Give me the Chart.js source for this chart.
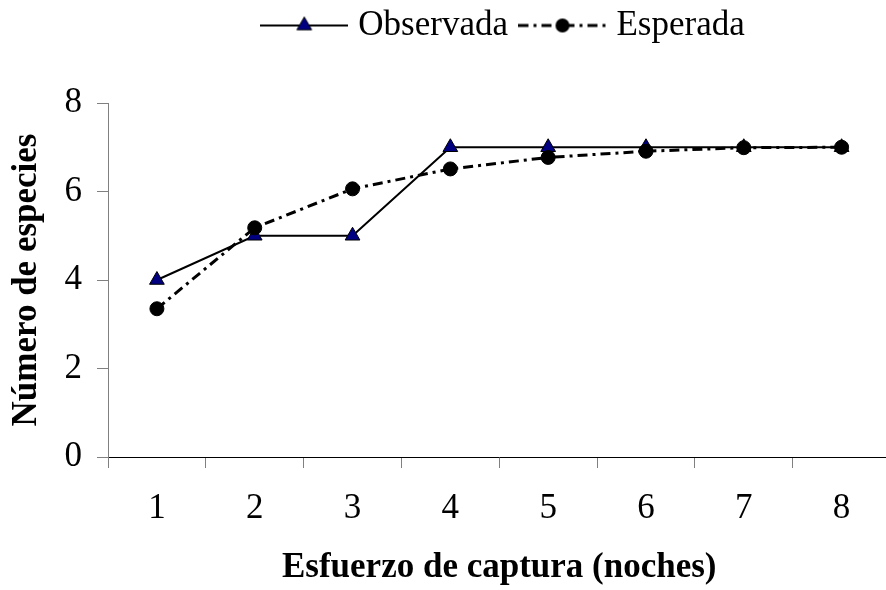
<!DOCTYPE html>
<html><head><meta charset="utf-8">
<script src="https://cdn.jsdelivr.net/npm/chart.js@4.4.0/dist/chart.umd.min.js"></script>
<style>html,body{margin:0;padding:0;overflow:hidden;background:#fff}#wrap{width:900px;height:590px}</style>
</head><body><div id="wrap"><canvas id="c" width="900" height="590"></canvas></div>
<script>
const categories = ['1','2','3','4','5','6','7','8'];
const observada = [4, 5, 5, 7, 7, 7, 7, 7];
const esperada = [3.35, 5.18, 6.06, 6.51, 6.77, 6.91, 6.99, 7.0];
const yTicks = [0, 2, 4, 6, 8];
const seriesNames = ['Observada', 'Esperada'];
const xTitle = 'Esfuerzo de captura (noches)';
const yTitle = 'Número de especies';

const FAM = "'Liberation Serif', 'Times New Roman', serif";
const NAVY = '#000080';
const DASH = [10, 5, 3, 5];

function makeIcon(kind) {
  const c = document.createElement('canvas');
  c.width = 88; c.height = 22;
  const g = c.getContext('2d');
  g.strokeStyle = '#000';
  if (kind === 0) {
    g.lineWidth = 2;
    g.beginPath(); g.moveTo(0, 11); g.lineTo(88, 11); g.stroke();
    const r = 8.5, cx = 44, cy = 11;
    g.beginPath();
    g.moveTo(cx, cy - r);
    g.lineTo(cx + r * Math.sin(2 * Math.PI / 3), cy - r * Math.cos(2 * Math.PI / 3));
    g.lineTo(cx + r * Math.sin(4 * Math.PI / 3), cy - r * Math.cos(4 * Math.PI / 3));
    g.closePath();
    g.fillStyle = NAVY; g.fill(); g.lineWidth = 1; g.stroke();
  } else {
    g.lineWidth = 3; g.setLineDash(DASH);
    g.beginPath(); g.moveTo(0, 11); g.lineTo(88, 11); g.stroke();
    g.setLineDash([]);
    g.beginPath(); g.arc(44, 11, 7, 0, Math.PI * 2);
    g.fillStyle = '#000'; g.fill();
  }
  return c;
}
const icons = [makeIcon(0), makeIcon(1)];

const legendShift = {
  id: 'legendShift',
  afterLayout(chart) {
    if (chart.legend) { chart.legend.left += 7; chart.legend.right += 7; }
  }
};

new Chart(document.getElementById('c'), {
  type: 'line',
  data: {
    labels: categories,
    datasets: [
      {
        label: seriesNames[0], data: observada, order: 1,
        borderColor: '#000', borderWidth: 2, tension: 0,
        pointStyle: 'triangle', pointRadius: 8.5, pointBackgroundColor: NAVY,
        pointBorderColor: '#000', pointBorderWidth: 1
      },
      {
        label: seriesNames[1], data: esperada, order: 0,
        borderColor: '#000', borderWidth: 3, borderDash: DASH, tension: 0,
        pointStyle: 'circle', pointRadius: 7, pointBackgroundColor: '#000',
        pointBorderColor: '#000', pointBorderWidth: 1
      }
    ]
  },
  plugins: [legendShift],
  options: {
    responsive: false,
    animation: false,
    devicePixelRatio: 1,
    layout: { padding: { top: -10, right: 6, left: 0, bottom: 0 } },
    plugins: {
      tooltip: { enabled: false },
      legend: {
        display: true, position: 'top', fullSize: false,
        labels: {
          color: '#000', font: { family: FAM, size: 35 },
          usePointStyle: true, pointStyleWidth: 73, padding: 18,
          generateLabels(chart) {
            const items = Chart.defaults.plugins.legend.labels.generateLabels(chart);
            items.sort((a, b) => a.datasetIndex - b.datasetIndex);
            items.forEach(it => { it.pointStyle = icons[it.datasetIndex]; });
            return items;
          }
        }
      },
      subtitle: {
        display: true, text: '', weight: 500,
        font: { size: 10 }, padding: { top: 0, bottom: 38 }
      }
    },
    scales: {
      x: {
        type: 'category', offset: true,
        grid: { offset: true, drawOnChartArea: false, drawTicks: true, tickLength: 11, color: '#808080' },
        border: { display: true, color: '#000', width: 1 },
        ticks: { color: '#000', font: { family: FAM, size: 35 }, padding: 20, maxRotation: 0, autoSkip: false },
        title: { display: true, text: xTitle, color: '#000', font: { family: FAM, size: 35, weight: 'bold' }, padding: { top: 0, bottom: 1 } },
        afterFit(s) { s.height = 133; }
      },
      y: {
        min: 0, max: 8,
        afterBuildTicks(s) { s.ticks = yTicks.map(v => ({ value: v })); },
        grid: { drawOnChartArea: false, drawTicks: true, tickLength: 11, color: '#808080' },
        border: { display: true, color: '#808080', width: 1 },
        ticks: { color: '#000', font: { family: FAM, size: 35 }, padding: 15 },
        title: { display: true, text: yTitle, color: '#000', font: { family: FAM, size: 35, weight: 'bold' }, padding: { top: 6, bottom: 0 } },
        afterFit(s) { s.width = 108; }
      }
    }
  }
});
</script></body></html>
